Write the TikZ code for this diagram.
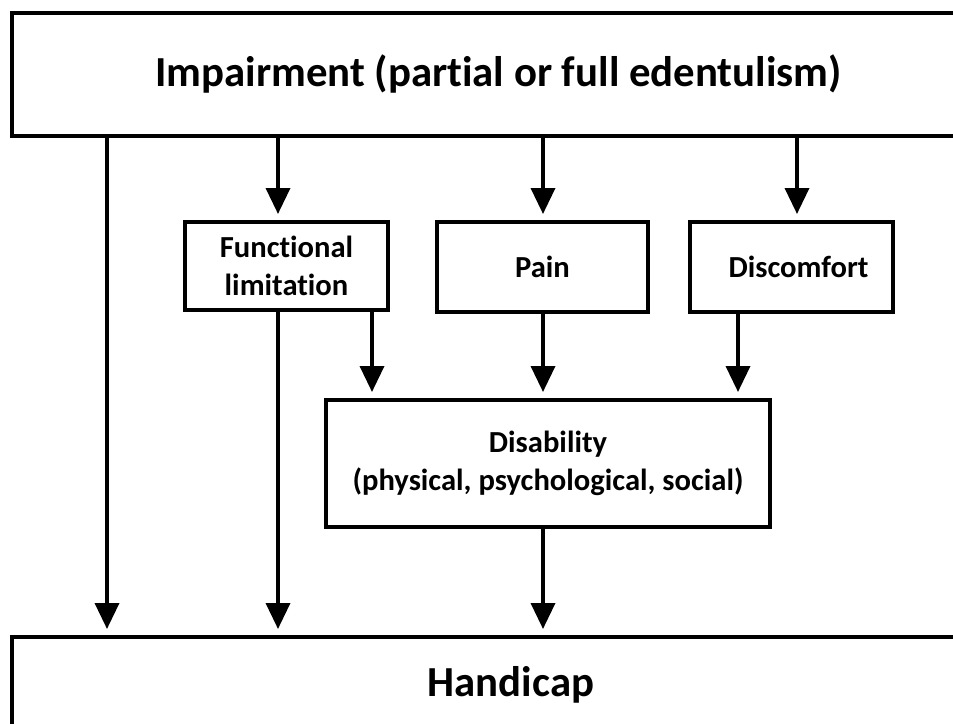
\documentclass[tikz,border=0pt]{standalone}
\usepackage{fontspec}
\setmainfont{Carlito}[Ligatures={NoCommon}]
\usetikzlibrary{arrows.meta}
\begin{document}
\begin{tikzpicture}[x=1pt,y=-1pt,
  box/.style={draw=black,line width=4pt,fill=white,inner sep=0pt,align=center,font=\bfseries},
  bigbox/.style={box,font=\fontsize{42.8}{48}\selectfont\bfseries},
  smallbox/.style={box,font=\fontsize{30.6}{38.5}\selectfont\bfseries},
  arr/.style={line width=3.6pt,-{Triangle[width=24pt,length=26pt]},shorten >=6pt}]
\clip (0,0) rectangle (953,723);
\fill[white] (0,0) rectangle (953,723);
\node[bigbox,minimum width=973pt,minimum height=123pt] (top) at (498.5,74) {Impairment (partial or full edentulism)};
\node[bigbox,minimum width=998pt,minimum height=96pt] (hc) at (511,685) {Handicap};
\node[smallbox,minimum width=203pt,minimum height=88pt] (fl) at (286.5,266) {Functional\\limitation};
\node[smallbox,minimum width=211pt,minimum height=90pt] (pain) at (542.5,267) {Pain};
\node[smallbox,minimum width=203pt,minimum height=90pt,text width=203pt] (dis) at (791.5,267) {\hspace*{14pt}Discomfort};
\node[smallbox,minimum width=444pt,minimum height=127pt] (db) at (548,463.5) {Disability\\(physical, psychological, social)};
\draw[arr] (107,0 |- top.south) -- (107,0 |- hc.north);
\draw[arr] (278,0 |- top.south) -- (278,0 |- fl.north);
\draw[arr] (543,0 |- top.south) -- (543,0 |- pain.north);
\draw[arr] (797,0 |- top.south) -- (797,0 |- dis.north);
\draw[arr] (278,0 |- fl.south) -- (278,0 |- hc.north);
\draw[arr] (372,0 |- fl.south) -- (372,0 |- db.north);
\draw[arr] (543,0 |- pain.south) -- (543,0 |- db.north);
\draw[arr] (738,0 |- dis.south) -- (738,0 |- db.north);
\draw[arr] (543,0 |- db.south) -- (543,0 |- hc.north);
\end{tikzpicture}
\end{document}
